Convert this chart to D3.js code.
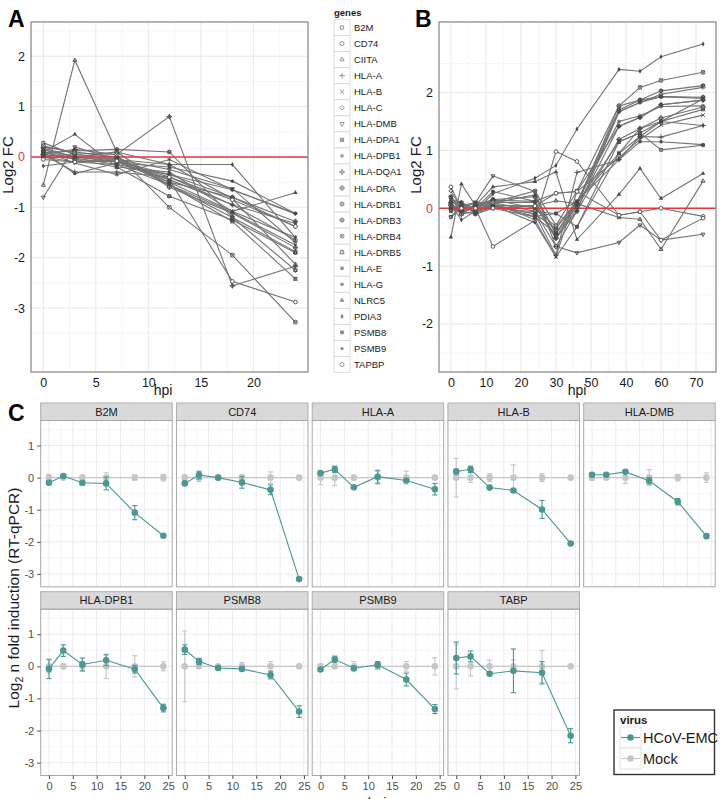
<!DOCTYPE html>
<html>
<head>
<meta charset="utf-8">
<script src="https://cdn.jsdelivr.net/npm/d3@7"></script>
<style>
  body { margin: 0; background: #fff; }
  svg { display: block; font-family: "Liberation Sans", Arial, sans-serif; }
</style>
</head>
<body>
<div id="chart"></div>
<script>
// ---- data ----
const genes = ["B2M", "CD74", "CIITA", "HLA-A", "HLA-B", "HLA-C", "HLA-DMB", "HLA-DPA1", "HLA-DPB1",
  "HLA-DQA1", "HLA-DRA", "HLA-DRB1", "HLA-DRB3", "HLA-DRB4", "HLA-DRB5", "HLA-E", "HLA-G",
  "NLRC5", "PDIA3", "PSMB8", "PSMB9", "TAPBP"];

// panel A: microarray, hours post infection
const timesA = [0, 3, 7, 12, 18, 24];
const valuesA = [
  [0.28, 0.05, -0.05, -0.55, -1.20, -1.88],
  [0.10, -0.05, -0.10, -0.45, -2.47, -2.88],
  [-0.56, 1.92, 0.10, -0.15, -0.83, -2.13],
  [0.05, -0.30, -0.30, -0.40, -0.95, -1.65],
  [0.15, 0.00, -0.10, -0.50, -1.08, -1.60],
  [0.00, -0.10, -0.15, -0.35, -0.80, -1.38],
  [-0.80, 0.20, -0.05, -0.25, -0.63, -1.70],
  [0.20, 0.10, 0.00, -0.55, -1.28, -2.42],
  [0.12, -0.12, -0.35, -0.05, -0.65, -1.13],
  [0.05, 0.15, 0.05, 0.80, -2.56, -2.17],
  [0.18, 0.00, 0.10, -0.60, -1.12, -1.80],
  [0.08, 0.12, 0.15, 0.10, -1.20, -2.25],
  [0.02, 0.05, 0.00, -0.50, -0.80, -1.28],
  [0.22, 0.08, 0.05, -1.00, -1.95, -3.28],
  [0.15, -0.05, -0.20, -0.78, -1.25, -1.90],
  [-0.02, 0.00, -0.05, -0.45, -0.95, -1.32],
  [0.10, -0.33, -0.12, -0.20, -0.48, -1.12],
  [0.10, 0.45, -0.20, -0.30, -1.08, -0.71],
  [-0.18, -0.10, -0.05, -0.15, -0.15, -1.60],
  [0.05, 0.00, -0.08, -0.35, -0.65, -1.12],
  [0.00, -0.02, -0.15, -0.55, -1.10, -1.75],
  [-0.05, -0.10, -0.08, -0.40, -0.85, -1.38]
];

// panel B: second time course
const timesB = [0, 3, 7, 12, 24, 30, 36, 48, 54, 60, 72];
const valuesB = [
  [-0.15, 0.05, 0.10, 0.00, -0.06, -0.09, -0.32, 1.15, 1.30, 1.01, 1.09],
  [0.05, -0.05, 0.00, -0.66, -0.21, 0.98, 0.81, -0.12, -0.06, 0.00, -0.14],
  [0.10, -0.10, 0.05, 0.05, 0.04, 0.13, 0.08, -0.16, -0.19, -0.71, 0.47],
  [0.10, -0.10, -0.05, 0.05, -0.10, -0.81, 0.62, 0.84, 1.24, 1.23, 1.43],
  [0.20, 0.00, 0.10, 0.10, -0.20, -0.84, 0.29, 0.88, 1.19, 1.44, 1.61],
  [0.30, 0.00, 0.00, 0.10, 0.10, -0.50, 0.05, 1.67, 1.83, 1.97, 2.09],
  [-0.15, 0.00, 0.10, 0.56, 0.29, -0.66, -0.77, -0.59, -0.29, -0.55, -0.45],
  [-0.05, -0.02, 0.00, 0.15, 0.00, -0.32, 0.12, 0.95, 1.24, 1.50, 1.71],
  [0.15, 0.10, -0.08, 0.09, 0.23, -0.43, 0.10, 1.50, 1.60, 1.76, 1.77],
  [0.05, -0.05, 0.05, 0.14, 0.12, -0.52, 0.00, 1.42, 1.57, 1.79, 1.87],
  [0.05, -0.10, 0.05, 0.10, -0.05, -0.66, -0.05, 1.19, 1.38, 1.56, 1.75],
  [0.10, 0.10, -0.10, 0.05, -0.10, -0.35, 0.10, 1.70, 1.87, 2.03, 2.12],
  [0.20, -0.05, 0.05, 0.15, 0.20, -0.45, 0.08, 1.77, 1.87, 1.93, 1.92],
  [0.05, 0.00, -0.05, 0.10, 0.30, -0.30, 0.30, 1.77, 2.09, 2.21, 2.35],
  [0.00, 0.05, -0.05, 0.00, -0.15, -0.43, 0.08, 1.15, 1.30, 1.50, 1.89],
  [0.15, -0.05, -0.10, 0.00, 0.05, -0.52, -0.05, 1.67, 1.83, 1.93, 1.90],
  [0.00, 0.05, 0.00, 0.05, -0.14, -0.09, 0.12, 0.84, 1.15, 1.15, 1.10],
  [-0.50, 0.42, 0.05, 0.37, 0.46, 0.63, -0.54, 0.24, 0.69, 0.17, 0.60],
  [0.05, -0.20, -0.05, 0.25, 0.52, 0.74, 1.37, 2.40, 2.37, 2.62, 2.84],
  [0.10, 0.10, 0.00, 0.29, 0.12, 0.26, 0.29, 1.42, 1.57, 1.79, 1.87],
  [0.00, -0.05, 0.05, 0.05, -0.25, -0.84, -0.32, 0.95, 1.38, 1.50, 1.43],
  [0.37, 0.00, 0.00, 0.00, 0.04, 0.26, 0.29, -0.12, -0.06, -0.55, -0.17]
];
const ticksAx = [0, 5, 10, 15, 20];
const ticksAy = [-3, -2, -1, 0, 1, 2];
const ticksBx = [0, 10, 20, 30, 40, 50, 60, 70];
const labelsBx = ["0", "10", "20", "30", "50", "40", "60", "70"];   // as printed in the figure
const ticksBy = [-2, -1, 0, 1, 2];

// panel C: RT-qPCR
const facetGenes = ["B2M", "CD74", "HLA-A", "HLA-B", "HLA-DMB", "HLA-DPB1", "PSMB8", "PSMB9", "TABP"];
const timesC = [0, 3, 7, 12, 18, 24];
const virusMean = [
  [-0.16, 0.05, -0.16, -0.18, -1.09, -1.81],
  [-0.18, 0.08, 0.00, -0.15, -0.38, -3.16],
  [0.14, 0.26, -0.30, 0.03, -0.09, -0.36],
  [0.19, 0.26, -0.31, -0.40, -0.99, -2.05],
  [0.09, 0.09, 0.18, -0.10, -0.75, -1.82],
  [-0.08, 0.49, 0.06, 0.19, -0.09, -1.30],
  [0.52, 0.15, -0.05, -0.08, -0.27, -1.41],
  [-0.10, 0.22, -0.06, 0.05, -0.41, -1.33],
  [0.26, 0.31, -0.23, -0.14, -0.20, -2.16]
];
const virusErr = [
  [0.05, 0.03, 0.07, 0.20, 0.22, 0.03],
  [0.04, 0.12, 0.02, 0.18, 0.15, 0.03],
  [0.05, 0.10, 0.04, 0.20, 0.06, 0.18],
  [0.08, 0.10, 0.03, 0.03, 0.28, 0.03],
  [0.04, 0.04, 0.04, 0.10, 0.10, 0.08],
  [0.30, 0.18, 0.20, 0.17, 0.12, 0.12],
  [0.15, 0.10, 0.06, 0.06, 0.12, 0.18],
  [0.05, 0.10, 0.05, 0.10, 0.20, 0.14],
  [0.50, 0.17, 0.05, 0.68, 0.35, 0.22]
];
const mockMean = [
  [0, 0, 0, 0, 0, 0], [0, 0, 0, 0, 0, 0], [0, 0, 0, 0, 0, 0],
  [0, 0, 0, 0, 0, 0], [0, 0, 0, 0, 0, 0], [0, 0, 0, 0, 0, 0],
  [0, 0, 0, 0, 0, 0], [0, 0, 0, 0, 0, 0], [0, 0, 0, 0, 0, 0]
];
const mockErr = [
  [0.10, 0.03, 0.08, 0.15, 0.08, 0.10],
  [0.08, 0.12, 0.03, 0.10, 0.18, 0.05],
  [0.22, 0.25, 0.05, 0.20, 0.20, 0.05],
  [0.60, 0.15, 0.12, 0.40, 0.12, 0.03],
  [0.08, 0.06, 0.18, 0.25, 0.10, 0.15],
  [0.20, 0.07, 0.15, 0.38, 0.33, 0.14],
  [1.10, 0.05, 0.05, 0.12, 0.15, 0.03],
  [0.07, 0.05, 0.15, 0.10, 0.15, 0.27],
  [0.70, 0.30, 0.20, 0.20, 0.50, 0.05]
];
const ticksCx = [0, 5, 10, 15, 20, 25];
const ticksCy = [-3, -2, -1, 0, 1];
const virusNames = ["HCoV-EMC", "Mock"];
const virusColors = ["#4a9891", "#c6c6c6"];

// ---- marker shapes (ggplot shapes 0..21, roughly) ----
const S = n => d3[n] || d3.symbolCircle;
const shapes = [
  [["symbolSquare2", 0, 0]], [["symbolCircle", 0, 0]], [["symbolTriangle2", 0, 0]],
  [["symbolPlus", 0, 0]], [["symbolTimes", 0, 0]], [["symbolDiamond2", 0, 0]],
  [["symbolTriangle2", 0, 180]], [["symbolSquare2", 0, 0], ["symbolTimes", 0, 0]],
  [["symbolAsterisk", 0, 0]], [["symbolDiamond2", 0, 0], ["symbolPlus", 0, 0]],
  [["symbolCircle", 0, 0], ["symbolPlus", 0, 0]], [["symbolTriangle2", 0, 0], ["symbolTriangle2", 0, 180]],
  [["symbolSquare2", 0, 0], ["symbolPlus", 0, 0]], [["symbolCircle", 0, 0], ["symbolTimes", 0, 0]],
  [["symbolSquare2", 0, 0], ["symbolTriangle2", 0, 0]], [["symbolSquare", 1, 0]],
  [["symbolCircle", 1, 0]], [["symbolTriangle", 1, 0]], [["symbolDiamond", 1, 0]],
  [["symbolCircle", 1, 0]], [["symbolCircle", 1, 0]], [["symbolCircle", 0, 0]]
];
const shapeSize = [1, 1, 1, 1, 1, 1, 1, 1, 1, 1, 1, 1, 1, 1, 1, 0.8, 0.8, 0.8, 0.7, 1.1, 0.6, 1];

function drawMarker(g, i, cx, cy, size, color) {
  shapes[i].forEach(([type, filled, rot]) => {
    g.append("path")
      .attr("d", d3.symbol().type(S(type)).size(size * shapeSize[i])())
      .attr("transform", `translate(${cx},${cy}) rotate(${rot})`)
      .attr("fill", filled ? color : (type === "symbolCircle" ? "#fff" : "none"))
      .attr("stroke", color)
      .attr("stroke-width", filled ? 0 : 0.9);
  });
}

const W = 723, H = 799;
const svg = d3.select("#chart").append("svg").attr("width", W).attr("height", H);

// ---- panels A and B ----
function linePanel(o) {
  const x = d3.scaleLinear().domain(o.xDom).range([o.left, o.right]);
  const y = d3.scaleLinear().domain(o.yDom).range([o.bottom, o.top]);
  const g = svg.append("g");

  // grid, minor then major
  const minorX = o.xTicks.slice(0, -1).map((t, i) => (t + o.xTicks[i + 1]) / 2);
  const minorY = o.yTicks.slice(0, -1).map((t, i) => (t + o.yTicks[i + 1]) / 2);
  minorX.push(o.xTicks[o.xTicks.length - 1] + (o.xTicks[1] - o.xTicks[0]) / 2);
  minorY.push(o.yTicks[0] - 0.5, o.yTicks[o.yTicks.length - 1] + 0.5);
  g.selectAll(".mx").data(minorX.filter(v => v < o.xDom[1])).join("line")
    .attr("x1", d => x(d)).attr("x2", d => x(d)).attr("y1", o.top).attr("y2", o.bottom)
    .attr("stroke", "#f4f4f4").attr("stroke-width", 0.8);
  g.selectAll(".my").data(minorY.filter(v => v > o.yDom[0] && v < o.yDom[1])).join("line")
    .attr("x1", o.left).attr("x2", o.right).attr("y1", d => y(d)).attr("y2", d => y(d))
    .attr("stroke", "#f4f4f4").attr("stroke-width", 0.8);
  g.selectAll(".gx").data(o.xTicks).join("line")
    .attr("x1", d => x(d)).attr("x2", d => x(d)).attr("y1", o.top).attr("y2", o.bottom)
    .attr("stroke", "#e8e8e8").attr("stroke-width", 1);
  g.selectAll(".gy").data(o.yTicks).join("line")
    .attr("x1", o.left).attr("x2", o.right).attr("y1", d => y(d)).attr("y2", d => y(d))
    .attr("stroke", "#e8e8e8").attr("stroke-width", 1);

  const line = d3.line().x((d, i) => x(o.times[i])).y(d => y(d));
  g.selectAll(".ln").data(o.values).join("path")
    .attr("d", d => line(d)).attr("fill", "none")
    .attr("stroke", "#737373").attr("stroke-width", 1.1);

  g.append("line").attr("x1", o.left).attr("x2", o.right)
    .attr("y1", y(0)).attr("y2", y(0)).attr("stroke", "#e2373c").attr("stroke-width", 1.6);

  const mk = g.append("g");
  o.values.forEach((vals, i) => vals.forEach((v, j) => drawMarker(mk, i, x(o.times[j]), y(v), 11, "#4a4a4a")));

  g.append("rect").attr("x", o.left).attr("y", o.top)
    .attr("width", o.right - o.left).attr("height", o.bottom - o.top)
    .attr("fill", "none").attr("stroke", "#8c8c8c").attr("stroke-width", 1.3);

  const ax = g.append("g").attr("transform", `translate(0,${o.bottom})`)
    .call(d3.axisBottom(x).tickValues(o.xTicks).tickSize(0).tickPadding(6)
      .tickFormat((d, i) => o.xLabels ? o.xLabels[i] : String(d)));
  const ay = g.append("g").attr("transform", `translate(${o.left},0)`)
    .call(d3.axisLeft(y).tickValues(o.yTicks).tickSize(0).tickPadding(6).tickFormat(d => String(d)));
  [ax, ay].forEach(a => {
    a.select(".domain").remove();
    a.selectAll("text").attr("font-size", 12.5).attr("fill", "#1a1a1a")
      .attr("font-family", "Liberation Sans, Arial, sans-serif");
  });
  ay.selectAll("text").filter(d => d === 0).attr("fill", "#e2373c");

  g.append("text").attr("x", o.hpiX).attr("y", 395).attr("text-anchor", "middle")
    .attr("font-size", 14).attr("fill", "#1a1a1a").text("hpi");
  g.append("text").attr("transform", `translate(${o.left - 18},165) rotate(-90)`)
    .attr("text-anchor", "middle").attr("font-size", 15).attr("fill", "#1a1a1a").text("Log2 FC");
  svg.append("text").attr("x", o.letterX).attr("y", 27).attr("font-size", 23)
    .attr("font-weight", "bold").attr("font-family", "Liberation Sans, Arial, sans-serif").text(o.letter);
}

linePanel({
  left: 31, right: 308, top: 22, bottom: 372, xDom: [-1.17, 25.2], yDom: [-4.27, 2.68],
  times: timesA, values: valuesA, xTicks: ticksAx, yTicks: ticksAy,
  hpiX: 163, letter: "A", letterX: 8
});
linePanel({
  left: 439, right: 716, top: 22, bottom: 372, xDom: [-3.4, 75.7], yDom: [-2.83, 3.22],
  times: timesB, values: valuesB, xTicks: ticksBx, xLabels: labelsBx, yTicks: ticksBy,
  hpiX: 577, letter: "B", letterX: 415
});

// ---- gene shape legend ----
const lg = svg.append("g");
lg.append("text").attr("x", 334).attr("y", 16).attr("font-size", 9.5)
  .attr("font-weight", "bold").attr("fill", "#1a1a1a").text("genes");
genes.forEach((gname, i) => {
  const cy = 27.5 + i * 16.05;
  lg.append("rect").attr("x", 334).attr("y", cy - 8).attr("width", 16).attr("height", 16)
    .attr("fill", "#fff").attr("stroke", "#d6d6d6").attr("stroke-width", 0.8);
  drawMarker(lg, i, 342, cy, 13, "#8a8a8a");
  lg.append("text").attr("x", 354).attr("y", cy + 3.5).attr("font-size", 9.5)
    .attr("fill", "#1a1a1a").text(gname);
});

// ---- panel C: facets ----
const colLeft = [40.7, 176.45, 312.2, 447.95, 583.7];
const facetW = 131.5;
const rowTop = [403, 591.7];    // top of strip
const stripH = 17.5, panelH = 166.3;
const xC = d3.scaleLinear().domain([-1.74, 25.85]).range([0, facetW]);
const yC = d3.scaleLinear().domain([-3.4, 1.78]).range([panelH, 0]);
const minorCx = [2.5, 7.5, 12.5, 17.5, 22.5];
const minorCy = [-2.5, -1.5, -0.5, 0.5, 1.5];

facetGenes.forEach((gname, k) => {
  const r = Math.floor(k / 5), c = k % 5;
  const g = svg.append("g").attr("transform", `translate(${colLeft[c]},${rowTop[r]})`);
  g.append("rect").attr("width", facetW).attr("height", stripH)
    .attr("fill", "#d9d9d9").attr("stroke", "#adadad").attr("stroke-width", 1);
  g.append("text").attr("x", facetW / 2).attr("y", stripH / 2 + 4).attr("text-anchor", "middle")
    .attr("font-size", 11).attr("fill", "#1a1a1a").text(gname);

  const p = g.append("g").attr("transform", `translate(0,${stripH})`);
  p.selectAll(".mx").data(minorCx).join("line")
    .attr("x1", d => xC(d)).attr("x2", d => xC(d)).attr("y1", 0).attr("y2", panelH)
    .attr("stroke", "#f5f5f5").attr("stroke-width", 0.8);
  p.selectAll(".my").data(minorCy).join("line")
    .attr("x1", 0).attr("x2", facetW).attr("y1", d => yC(d)).attr("y2", d => yC(d))
    .attr("stroke", "#f5f5f5").attr("stroke-width", 0.8);
  p.selectAll(".gx").data(ticksCx).join("line")
    .attr("x1", d => xC(d)).attr("x2", d => xC(d)).attr("y1", 0).attr("y2", panelH)
    .attr("stroke", "#ebebeb").attr("stroke-width", 1);
  p.selectAll(".gy").data(ticksCy).join("line")
    .attr("x1", 0).attr("x2", facetW).attr("y1", d => yC(d)).attr("y2", d => yC(d))
    .attr("stroke", "#ebebeb").attr("stroke-width", 1);

  // mock drawn first, virus on top
  [[mockMean[k], mockErr[k], 1], [virusMean[k], virusErr[k], 0]].forEach(([m, e, vi]) => {
    const col = virusColors[vi];
    const line = d3.line().x((d, i) => xC(timesC[i])).y(d => yC(d));
    p.append("path").attr("d", line(m)).attr("fill", "none").attr("stroke", col).attr("stroke-width", 1.1);
    const eg = p.append("g").attr("stroke", col).attr("stroke-width", 1.1);
    m.forEach((v, i) => {
      const cx = xC(timesC[i]);
      eg.append("line").attr("x1", cx).attr("x2", cx).attr("y1", yC(v - e[i])).attr("y2", yC(v + e[i]));
      eg.append("line").attr("x1", cx - 2.6).attr("x2", cx + 2.6).attr("y1", yC(v - e[i])).attr("y2", yC(v - e[i]));
      eg.append("line").attr("x1", cx - 2.6).attr("x2", cx + 2.6).attr("y1", yC(v + e[i])).attr("y2", yC(v + e[i]));
    });
    p.selectAll(".pt" + vi).data(m).join("circle")
      .attr("cx", (d, i) => xC(timesC[i])).attr("cy", d => yC(d)).attr("r", 3.3).attr("fill", col);
  });

  p.append("rect").attr("width", facetW).attr("height", panelH)
    .attr("fill", "none").attr("stroke", "#a8a8a8").attr("stroke-width", 1);

  if (c === 0) {
    const ay = p.append("g").call(d3.axisLeft(yC).tickValues(ticksCy).tickSize(3.5).tickPadding(3)
      .tickFormat(d => String(d)));
    ay.select(".domain").remove();
    ay.selectAll("line").attr("stroke", "#4d4d4d");
    ay.selectAll("text").attr("font-size", 11).attr("fill", "#4d4d4d")
      .attr("font-family", "Liberation Sans, Arial, sans-serif");
  }
  if (r === 1) {
    const ax = p.append("g").attr("transform", `translate(0,${panelH})`)
      .call(d3.axisBottom(xC).tickValues(ticksCx).tickSize(3.5).tickPadding(3).tickFormat(d => String(d)));
    ax.select(".domain").remove();
    ax.selectAll("line").attr("stroke", "#4d4d4d");
    ax.selectAll("text").attr("font-size", 11).attr("fill", "#4d4d4d")
      .attr("font-family", "Liberation Sans, Arial, sans-serif");
  }
});

svg.append("text").attr("x", 8).attr("y", 421).attr("font-size", 23)
  .attr("font-weight", "bold").text("C");
svg.append("text").attr("transform", "translate(19,598) rotate(-90)").attr("text-anchor", "middle")
  .attr("font-size", 15.5).attr("fill", "#1a1a1a")
  .html('Log<tspan font-size="10.5" dy="4">2</tspan><tspan dy="-4"> n fold induction (RT-qPCR)</tspan>');
// x title sits at the bottom edge, clipped as in the figure
svg.append("text").attr("x", 377).attr("y", 808).attr("text-anchor", "middle")
  .attr("font-size", 14).attr("fill", "#1a1a1a").text("hpi");

// ---- virus legend ----
const vl = svg.append("g").attr("transform", "translate(614,710)");
vl.append("rect").attr("width", 100.5).attr("height", 64.5).attr("fill", "#fff")
  .attr("stroke", "#333").attr("stroke-width", 1.4);
vl.append("text").attr("x", 6).attr("y", 13.5).attr("font-size", 11.5).attr("font-weight", "bold")
  .attr("fill", "#1a1a1a").text("virus");
virusNames.forEach((name, i) => {
  const ky = 17 + i * 21;
  vl.append("rect").attr("x", 6).attr("y", ky).attr("width", 21).attr("height", 21)
    .attr("fill", "#fff").attr("stroke", "#dcdcdc").attr("stroke-width", 0.8);
  vl.append("line").attr("x1", 7).attr("x2", 26).attr("y1", ky + 10.5).attr("y2", ky + 10.5)
    .attr("stroke", virusColors[i]).attr("stroke-width", 1.1);
  vl.append("circle").attr("cx", 16.5).attr("cy", ky + 10.5).attr("r", 3.3).attr("fill", virusColors[i]);
  vl.append("text").attr("x", 29).attr("y", ky + 15.5).attr("font-size", 14.5).attr("fill", "#1a1a1a").text(name);
});
</script>
</body>
</html>
